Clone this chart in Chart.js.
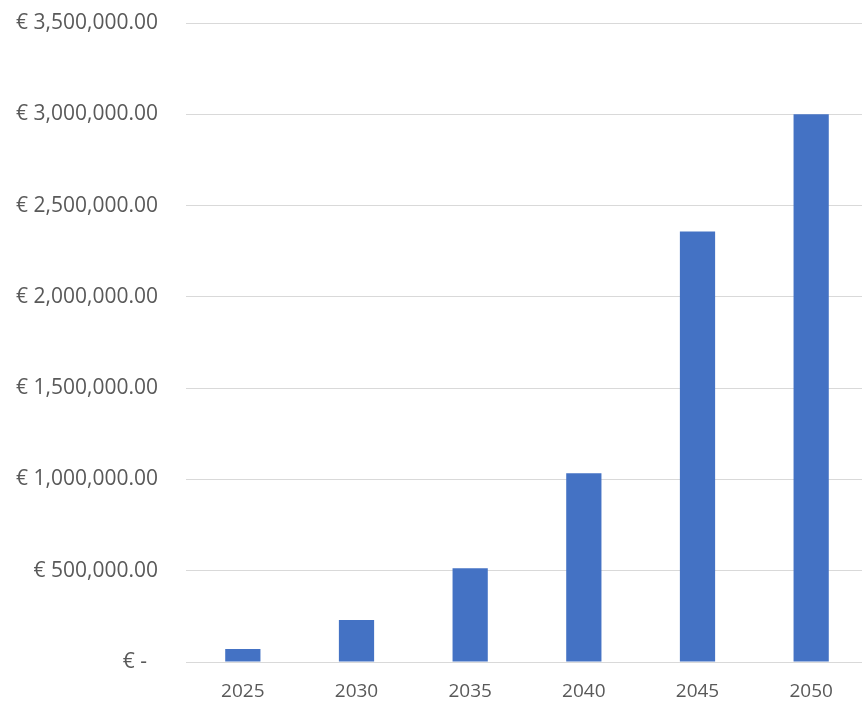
<!DOCTYPE html>
<html>
<head>
<meta charset="utf-8">
<script src="https://cdn.jsdelivr.net/npm/chart.js@4"></script>
<style>
  html, body { margin: 0; padding: 0; background: #ffffff; overflow: hidden; width: 862px; height: 705px; }
  #wrap { position: relative; width: 870px; height: 705px; }
</style>
</head>
<body>
<div id="wrap"><canvas id="c" width="870" height="705"></canvas></div>
<script>
const years = ['2025', '2030', '2035', '2040', '2045', '2050'];
const costs = [71000, 230000, 513000, 1034000, 2358000, 3000000];
const yMin = 0;
const yMax = 3500000;
const yStep = 500000;

function euro(v) {
  if (v === 0) return '€ -  ';
  return '€ ' + v.toLocaleString('en-US', { minimumFractionDigits: 2, maximumFractionDigits: 2 });
}

new Chart(document.getElementById('c'), {
  type: 'bar',
  data: {
    labels: years,
    datasets: [{
      data: costs,
      backgroundColor: '#4472C4',
      borderWidth: 0,
      barPercentage: 0.31,
      categoryPercentage: 1.0
    }]
  },
  options: {
    responsive: false,
    animation: false,
    layout: { padding: { top: 23, right: 2, bottom: 0, left: 0 } },
    plugins: { legend: { display: false }, tooltip: { enabled: false } },
    scales: {
      x: {
        grid: { display: false, drawTicks: false },
        border: { display: false },
        ticks: { color: '#595959', font: { family: 'Open Sans', size: 19 }, padding: 18 },
        afterFit: s => { s.height = 43; s.paddingLeft = 0; s.paddingRight = 0; }
      },
      y: {
        min: yMin, max: yMax,
        grid: { color: '#d9d9d9', lineWidth: 1, drawTicks: false },
        border: { display: false },
        ticks: {
          stepSize: yStep,
          color: '#595959',
          font: { family: 'Open Sans', size: 21 },
          padding: 28,
          callback: v => euro(v)
        },
        afterFit: s => { s.width = 186; s.paddingTop = 0; s.paddingBottom = 0; }
      }
    }
  }
});
</script>
</body>
</html>
